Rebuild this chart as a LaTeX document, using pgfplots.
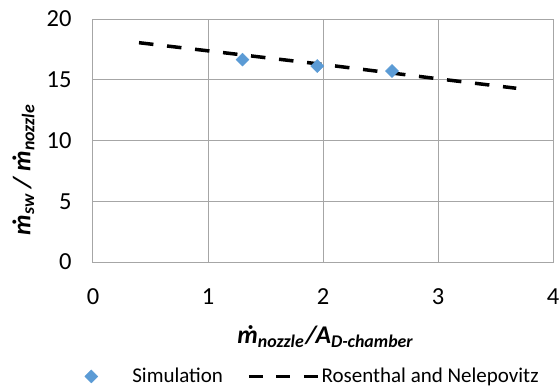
\documentclass[border=0pt]{standalone}
\usepackage{pgfplots}
\pgfplotsset{compat=1.18}
\usepackage{fontspec}
\setmainfont{Carlito}
\definecolor{simblue}{HTML}{5B9BD5}
\definecolor{gridgray}{HTML}{A6A6A6}

% m with a dot above (mass flow rate), built from the font's dot accent
\newcommand\mdot{\leavevmode\rlap{\hbox to \fontcharwd\font`m{\hss\kern0.14em\char"02D9\hss}}m}

% Simulated entrainment ratio
\pgfplotstableread{
x     y
1.30  16.65
1.95  16.13
2.60  15.72
}\simdata

% Rosenthal and Nelepovitz correlation
\pgfplotstableread{
x     y
0.40  18.05
1.00  17.38
1.50  16.82
2.00  16.26
2.50  15.67
3.00  15.08
3.68  14.30
}\corrdata

\pgfplotsset{
  simlegend/.style={legend image code/.code={%
    \path[draw=none] (0bp,0bp) -- (39bp,0bp);
    \draw[##1, draw=none] plot[only marks] coordinates {(0bp,0bp)};}},
  corrlegend/.style={legend image code/.code={%
    \draw[##1, dash pattern=on 14bp off 13.5bp] (0bp,0bp) -- (69bp,0bp);}},
}

\begin{document}
\begin{tikzpicture}
\useasboundingbox (-93bp,-126bp) rectangle (467bp,262bp);
\begin{axis}[
  at={(0,0)}, anchor=south west,
  scale only axis, width=460bp, height=243bp,
  xmin=0, xmax=4, ymin=0, ymax=20,
  xtick={0,1,2,3,4}, ytick={0,5,10,15,20},
  grid=major,
  major grid style={gridgray, line width=1bp},
  axis line style={gridgray, line width=1bp},
  major tick length=0pt,
  /pgf/number format/assume math mode=true,
  tick label style={font=\fontsize{24.5bp}{26bp}\selectfont, text=black},
  xticklabel style={yshift=-23bp},
  yticklabel style={xshift=-18bp},
  label style={font=\fontsize{25.5bp}{27bp}\selectfont\bfseries\itshape},
  xlabel={\mdot\textsubscript{nozzle}\kern0.05em/A\textsubscript{D-chamber}},
  ylabel={\mdot\textsubscript{sw} / \mdot\textsubscript{nozzle}},
  xlabel style={at={(axis description cs:0.505,-0.309)}, anchor=center},
  ylabel style={at={(axis description cs:-0.151,0.379)}, anchor=center},
  legend columns=2,
  legend style={
    at={(axis description cs:0.4776,-0.471)}, anchor=center,
    draw=none, fill=none,
    font=\fontsize{21bp}{23bp}\selectfont,
    nodes={inner ysep=0.5bp},
    /tikz/every even column/.append style={column sep=22bp},
  },
]
\addplot[only marks, mark=square*, mark size=4.6bp,
  mark options={fill=simblue, draw=simblue, rotate=45}, simlegend]
  table[x=x, y=y] {\simdata};
\addlegendentry{Simulation}
\addplot[black, line width=3.5bp, dash pattern=on 14.5bp off 13.7bp, no marks, corrlegend]
  table[x=x, y=y] {\corrdata};
\addlegendentry{Rosenthal and Nelepovitz}
\end{axis}
\end{tikzpicture}
\end{document}
